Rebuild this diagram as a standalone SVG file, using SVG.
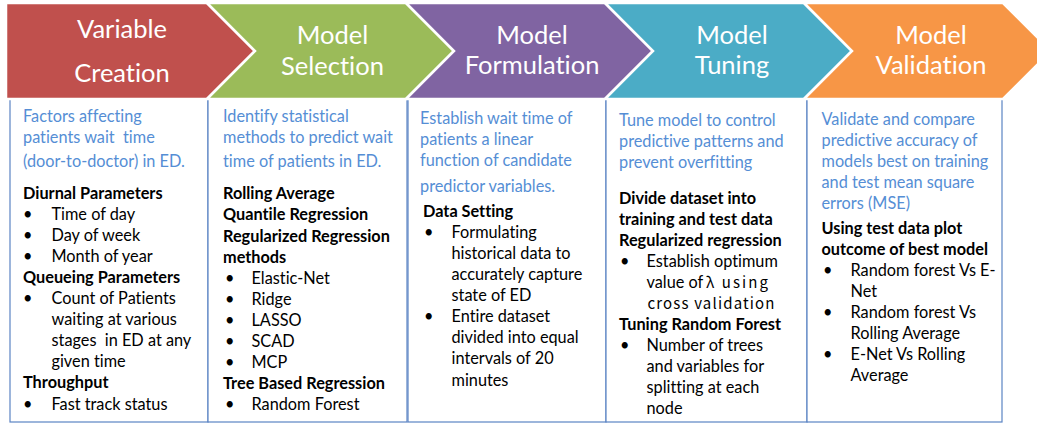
<svg xmlns="http://www.w3.org/2000/svg" width="1037" height="425" viewBox="0 0 1037 425">
  <style>
    text { font-variant-ligatures: none; font-feature-settings: "liga" 0, "clig" 0; }
    .chev { stroke: #ffffff; stroke-width: 2.5; stroke-linejoin: miter; }
    .box { fill: #ffffff; stroke: #5B84C4; stroke-width: 1.2; }
    .head { font-family: Lato, "Liberation Sans", sans-serif; font-size: 25.5px; fill: #ffffff; text-anchor: middle; }
    .lead { font-family: Lato, "Liberation Sans", sans-serif; font-size: 16.3px; fill: #558ED5; white-space: pre; }
    .txt { font-family: Lato, "Liberation Sans", sans-serif; font-size: 16.3px; fill: #000000; white-space: pre; }
    .b { font-weight: bold; }
    .alt { font-family: "Noto Sans CJK JP", "DejaVu Sans", sans-serif; font-size: 15px; }
  </style>
  <rect width="1037" height="425" fill="#ffffff"/>

  <!-- stage 1 -->
  <g id="variable-creation">
    <rect class="box" x="10" y="99" width="198" height="323"/>
    <polygon class="chev" fill="#C0504D" points="6,3 207,3 255,51 207,99 6,99"/>
    <text class="head" x="122" y="38">Variable</text>
    <text class="head" x="122" y="81.5">Creation</text>
    <text class="lead" x="23" y="121.5">Factors affecting</text>
    <text class="lead" x="23" y="142.5">patients wait  time</text>
    <text class="lead" x="23" y="166.5">(door-to-doctor) in ED.</text>
    <text class="txt b" x="23" y="198.5">Diurnal Parameters</text>
    <text class="txt" x="23" y="219.6">•</text><text class="txt" x="51.5" y="219.6">Time of day</text>
    <text class="txt" x="23" y="240.7">•</text><text class="txt" x="51.5" y="240.7">Day of week</text>
    <text class="txt" x="23" y="261.8">•</text><text class="txt" x="51.5" y="261.8">Month of year</text>
    <text class="txt b" x="23" y="282.9">Queueing Parameters</text>
    <text class="txt" x="23" y="304">•</text><text class="txt" x="51.5" y="304">Count of Patients</text>
    <text class="txt" x="51.5" y="325.1">waiting at various</text>
    <text class="txt" x="51.5" y="346.2">stages  in ED at any</text>
    <text class="txt" x="51.5" y="367.3">given time</text>
    <text class="txt b" x="23" y="388.4">Throughput</text>
    <text class="txt" x="23" y="409.5">•</text><text class="txt" x="51.5" y="409.5">Fast track status</text>
  </g>

  <!-- stage 2 -->
  <g id="model-selection">
    <rect class="box" x="208" y="99" width="199" height="323"/>
    <polygon class="chev" fill="#9BBB59" points="207,3 406,3 454,51 406,99 207,99 255,51"/>
    <text class="head" x="332.5" y="44">Model</text>
    <text class="head" x="332.5" y="75">Selection</text>
    <text class="lead" x="223" y="121.5">Identify statistical</text>
    <text class="lead" x="223" y="142.5">methods to predict wait</text>
    <text class="lead" x="223" y="166.5">time of patients in ED.</text>
    <text class="txt b" x="223" y="199.3">Rolling Average</text>
    <text class="txt b" x="223" y="220.4">Quantile Regression</text>
    <text class="txt b" x="223" y="241.5">Regularized Regression</text>
    <text class="txt b" x="223" y="262.6">methods</text>
    <text class="txt" x="225" y="283.7">•</text><text class="txt" x="251.5" y="283.7">Elastic-Net</text>
    <text class="txt" x="225" y="304.8">•</text><text class="txt" x="251.5" y="304.8">Ridge</text>
    <text class="txt" x="225" y="325.9">•</text><text class="txt" x="251.5" y="325.9">LASSO</text>
    <text class="txt" x="225" y="347">•</text><text class="txt" x="251.5" y="347">SCAD</text>
    <text class="txt" x="225" y="368.1">•</text><text class="txt" x="251.5" y="368.1">MCP</text>
    <text class="txt b" x="223" y="389.2">Tree Based Regression</text>
    <text class="txt" x="225" y="410.3">•</text><text class="txt" x="251.5" y="410.3">Random Forest</text>
  </g>

  <!-- stage 3 -->
  <g id="model-formulation">
    <rect class="box" x="408" y="99" width="198" height="323"/>
    <polygon class="chev" fill="#8064A2" points="406,3 605,3 653,51 605,99 406,99 454,51"/>
    <text class="head" x="532" y="44">Model</text>
    <text class="head" x="532" y="74">Formulation</text>
    <text class="lead" x="420" y="124.3">Establish wait time of</text>
    <text class="lead" x="420" y="145.3">patients a linear</text>
    <text class="lead" x="420" y="166.3">function of candidate</text>
    <text class="lead" x="420" y="191.5">predictor variables.</text>
    <text class="txt b" x="423" y="216.7">Data Setting</text>
    <text class="txt" x="424" y="237.8">•</text><text class="txt" x="451.5" y="237.8">Formulating</text>
    <text class="txt" x="451.5" y="258.9">historical data to</text>
    <text class="txt" x="451.5" y="280">accurately capture</text>
    <text class="txt" x="451.5" y="301.1">state of ED</text>
    <text class="txt" x="424" y="322.2">•</text><text class="txt" x="451.5" y="322.2">Entire dataset</text>
    <text class="txt" x="451.5" y="343.3">divided into equal</text>
    <text class="txt" x="451.5" y="364.4">intervals of 20</text>
    <text class="txt" x="451.5" y="385.5">minutes</text>
  </g>

  <!-- stage 4 -->
  <g id="model-tuning">
    <rect class="box" x="606" y="99" width="201" height="323"/>
    <polygon class="chev" fill="#4BACC6" points="605,3 804,3 852,51 804,99 605,99 653,51"/>
    <text class="head" x="732" y="44">Model</text>
    <text class="head" x="732" y="73.5">Tuning</text>
    <text class="lead" x="619" y="125.7">Tune model to control</text>
    <text class="lead" x="619" y="146.7">predictive patterns and</text>
    <text class="lead" x="619" y="167.7">prevent overfitting</text>
    <text class="txt b" x="619" y="204.3">Divide dataset into</text>
    <text class="txt b" x="619" y="225.3">training and test data</text>
    <text class="txt b" x="619" y="246.3">Regularized regression</text>
    <text class="txt" x="620" y="267.3">•</text><text class="txt" x="646.5" y="267.3">Establish optimum</text>
    <text class="txt" x="646.5" y="288.3">value of</text>
    <text class="txt alt" x="706" y="288.3" textLength="62" lengthAdjust="spacing">λ using</text>
    <text class="txt alt" x="647.5" y="309.3" textLength="127" lengthAdjust="spacing">cross validation</text>
    <text class="txt b" x="619" y="330.3">Tuning Random Forest</text>
    <text class="txt" x="620" y="351.3">•</text><text class="txt" x="646.5" y="351.3">Number of trees</text>
    <text class="txt" x="646.5" y="372.3">and variables for</text>
    <text class="txt" x="646.5" y="393.3">splitting at each</text>
    <text class="txt" x="646.5" y="414.3">node</text>
  </g>

  <!-- stage 5 -->
  <g id="model-validation">
    <rect class="box" x="807" y="99" width="195" height="323"/>
    <polygon class="chev" fill="#F79646" points="804,3 1003,3 1051,51 1003,99 804,99 852,51"/>
    <text class="head" x="931" y="44">Model</text>
    <text class="head" x="931" y="74">Validation</text>
    <text class="lead" x="821.5" y="125">Validate and compare</text>
    <text class="lead" x="821.5" y="146">predictive accuracy of</text>
    <text class="lead" x="821.5" y="167">models best on training</text>
    <text class="lead" x="821.5" y="188">and test mean square</text>
    <text class="lead" x="821.5" y="209">errors (MSE)</text>
    <text class="txt b" x="821.5" y="234.3">Using test data plot</text>
    <text class="txt b" x="821.5" y="255.3">outcome of best model</text>
    <text class="txt" x="823" y="276.3">•</text><text class="txt" x="850.5" y="276.3">Random forest Vs E-</text>
    <text class="txt" x="850.5" y="297.3">Net</text>
    <text class="txt" x="823" y="318.3">•</text><text class="txt" x="850.5" y="318.3">Random forest Vs</text>
    <text class="txt" x="850.5" y="339.3">Rolling Average</text>
    <text class="txt" x="823" y="360.3">•</text><text class="txt" x="850.5" y="360.3">E-Net Vs Rolling</text>
    <text class="txt" x="850.5" y="381.3">Average</text>
  </g>

  <!-- the chevrons carry the flow; no separate links -->
  <g id="connectors"/>
</svg>
